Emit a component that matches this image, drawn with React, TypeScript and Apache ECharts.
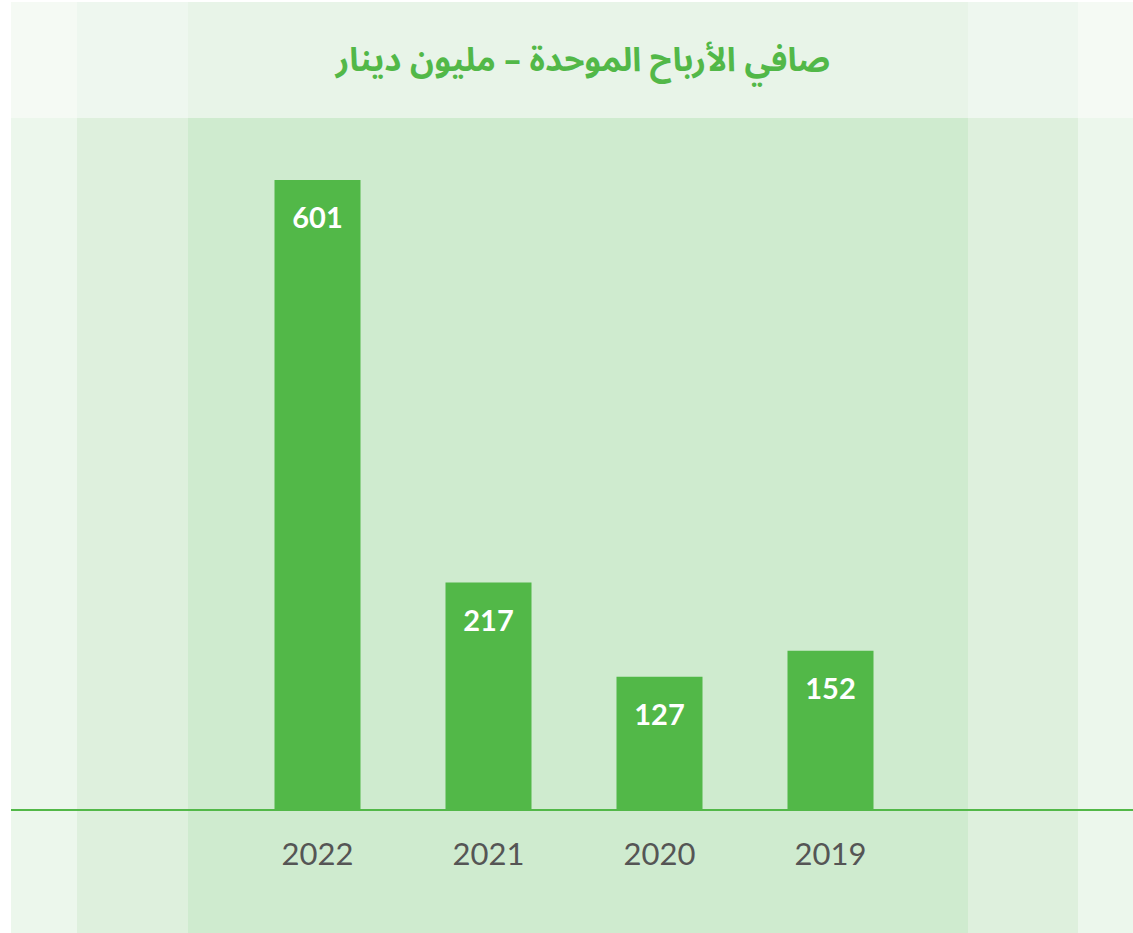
import React, { useEffect, useRef } from "react";
import * as echarts from "echarts";

const titleText = "صافي الأرباح الموحدة – مليون دينار";
const categories = ["2022", "2021", "2020", "2019"];
const values = [601, 217, 127, 152];

const GREEN = "#52b848";

export default function App() {
  const ref = useRef<HTMLDivElement>(null);
  useEffect(() => {
    if (!ref.current) return;
    const chart = echarts.init(ref.current, undefined, { renderer: "svg" });
    const W = 1133;
    const H = 933;
    const x0 = 11;
    const y0 = 2;
    const topH = 118;
    const bands = [
      { x: x0, w: 77 - x0, top: "#f5faf4", bot: "#ecf7ec" },
      { x: 77, w: 188 - 77, top: "#eef7ef", bot: "#def0dd" },
      { x: 188, w: 968 - 188, top: "#e8f4e8", bot: "#cfebcf" },
      { x: 968, w: 1078 - 968, top: "#eef7ef", bot: "#def0dd" },
      { x: 1078, w: W - 1078, top: "#f5faf4", bot: "#ecf7ec" },
    ];
    const graphics: any[] = [];
    bands.forEach((b) => {
      graphics.push({
        type: "rect",
        z: -10,
        silent: true,
        shape: { x: b.x, y: y0, width: b.w, height: topH - y0 },
        style: { fill: b.top },
      });
      graphics.push({
        type: "rect",
        z: -10,
        silent: true,
        shape: { x: b.x, y: topH, width: b.w, height: H - topH },
        style: { fill: b.bot },
      });
    });
    graphics.push({
      type: "line",
      z: 5,
      silent: true,
      shape: { x1: x0, y1: 810, x2: W, y2: 810 },
      style: { stroke: GREEN, lineWidth: 2 },
    });
    chart.setOption({
      animation: false,
      title: {
        text: titleText,
        left: 578,
        top: 39,
        textAlign: "center",
        textStyle: {
          color: GREEN,
          fontSize: 33,
          fontWeight: "bold",
          fontFamily: "'Noto Sans Arabic', 'DejaVu Sans', sans-serif",
        },
      },
      graphic: graphics,
      grid: { left: 232, right: W - 916, top: 180, bottom: H - 810 },
      xAxis: {
        type: "category",
        data: categories,
        axisLine: { show: false },
        axisTick: { show: false },
        axisLabel: {
          color: "#555555",
          fontSize: 31,
          margin: 27,
          fontFamily: "Lato, 'Open Sans', sans-serif",
        },
      },
      yAxis: {
        type: "value",
        min: 0,
        max: "dataMax",
        show: false,
        splitLine: { show: false },
      },
      series: [
        {
          type: "bar",
          data: values,
          barWidth: 86,
          itemStyle: { color: GREEN },
          label: {
            show: true,
            position: "insideTop",
            distance: 22,
            color: "#ffffff",
            fontSize: 29,
            fontWeight: "bold",
            fontFamily: "Lato, 'Open Sans', sans-serif",
          },
        },
      ],
    });
    return () => chart.dispose();
  }, []);
  return (
    <div
      ref={ref}
      style={{ position: "absolute", left: 0, top: 0, width: 1133, height: 933 }}
    />
  );
}
